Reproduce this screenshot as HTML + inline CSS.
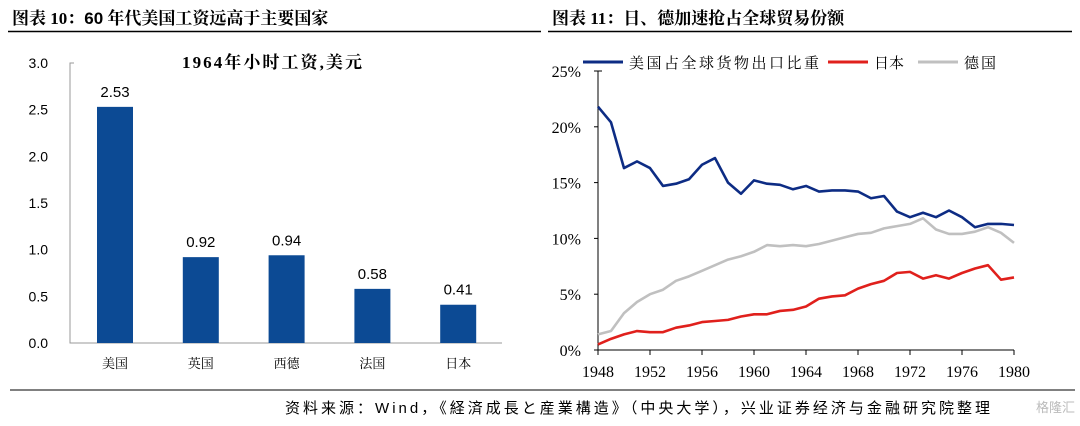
<!DOCTYPE html>
<html><head><meta charset="utf-8">
<style>
body{margin:0;background:#fff;width:1080px;height:421px;overflow:hidden;}
svg text{font-family:"Liberation Serif","Noto Serif CJK SC",serif;}
.sans{font-family:"Liberation Sans","Noto Sans CJK SC",sans-serif !important;}
</style></head>
<body>
<svg id="svg" width="1080" height="421" xmlns="http://www.w3.org/2000/svg">
<text x="12" y="24" font-size="17" font-weight="bold" fill="#000">图表 10：<tspan class="sans">60</tspan> 年代美国工资远高于主要国家</text>
<line x1="8" y1="31.5" x2="541" y2="31.5" stroke="#000" stroke-width="1.5"/>
<text x="552" y="24" font-size="17" font-weight="bold" fill="#000">图表 11：日、德加速抢占全球贸易份额</text>
<line x1="548" y1="31.5" x2="1072" y2="31.5" stroke="#000" stroke-width="1.5"/>
<text x="272" y="68" font-size="17" font-weight="bold" text-anchor="middle" textLength="180">1964年小时工资,美元</text>
<g id="left"></g>
<g id="right"></g>
<line x1="10" y1="390" x2="1075" y2="390" stroke="#000" stroke-width="1"/>
<text x="285" y="413" font-size="15" class="sans" fill="#000" textLength="705" lengthAdjust="spacing">资料来源：Wind，《経済成長と産業構造》（中央大学），兴业证券经济与金融研究院整理</text>
<text x="1075" y="412" font-size="13" text-anchor="end" class="sans" fill="#bbb">格隆汇</text>
</svg>
<script>
const NS="http://www.w3.org/2000/svg";
function mk(p,t,a){const e=document.createElementNS(NS,t);for(const k in a)e.setAttribute(k,a[k]);p.appendChild(e);return e;}
// Left bar chart data
const barCats=["美国","英国","西德","法国","日本"];
const barVals=[2.53,0.92,0.94,0.58,0.41];
const barTicks=[0,0.5,1.0,1.5,2.0,2.5,3.0];
// Right line chart data
const years=[];for(let y=1948;y<=1980;y++)years.push(y);
const usShare=[21.8,20.4,16.3,16.9,16.3,14.7,14.9,15.3,16.6,17.2,15.0,14.0,15.2,14.9,14.8,14.4,14.7,14.2,14.3,14.3,14.2,13.6,13.8,12.4,11.9,12.3,11.9,12.5,11.9,11.0,11.3,11.3,11.2];
const jpShare=[0.5,1.0,1.4,1.7,1.6,1.6,2.0,2.2,2.5,2.6,2.7,3.0,3.2,3.2,3.5,3.6,3.9,4.6,4.8,4.9,5.5,5.9,6.2,6.9,7.0,6.4,6.7,6.4,6.9,7.3,7.6,6.3,6.5];
const deShare=[1.4,1.7,3.3,4.3,5.0,5.4,6.2,6.6,7.1,7.6,8.1,8.4,8.8,9.4,9.3,9.4,9.3,9.5,9.8,10.1,10.4,10.5,10.9,11.1,11.3,11.8,10.8,10.4,10.4,10.6,11.0,10.5,9.6];
const yTicksR=[0,5,10,15,20,25];
const xTicksR=[1948,1952,1956,1960,1964,1968,1972,1976,1980];

// left
const L=document.getElementById('left');
const ly=v=>343-v/3.0*280;
const lx=i=>115+i*85.8;
let ax=mk(L,'polyline',{points:`74,${ly(3)} 70,${ly(3)} 70,343 502,343`,fill:'none',stroke:'#999','stroke-width':1});

barTicks.forEach(t=>{const e=mk(L,'text',{x:48,y:ly(t)+5,'font-size':14,'text-anchor':'end',class:'sans'});e.textContent=t.toFixed(1);
});
barVals.forEach((v,i)=>{const r=mk(L,'rect',{x:lx(i)-18,y:ly(v),width:36,height:343-ly(v),fill:'#0c4a94'});

const t=mk(L,'text',{x:lx(i),y:ly(v)-10,'font-size':15,'text-anchor':'middle',class:'sans'});t.textContent=v.toFixed(2);

const c=mk(L,'text',{x:lx(i),y:368,'font-size':13,'text-anchor':'middle'});c.textContent=barCats[i];
});

// right
const R=document.getElementById('right');
const rx=y=>598+(y-1948)*13;
const ry=v=>350-v*11.16;
let ax2=mk(R,'polyline',{points:`602,${ry(25)} 598,${ry(25)} 598,350 ${rx(1980)},350`,fill:'none',stroke:'#000','stroke-width':1});

yTicksR.forEach(t=>{const l=mk(R,'line',{x1:594,x2:598,y1:ry(t),y2:ry(t),stroke:'#000'});
const e=mk(R,'text',{x:581,y:ry(t)+6,'font-size':16,'text-anchor':'end'});e.textContent=t+'%';
});
xTicksR.forEach(t=>{const l=mk(R,'line',{x1:rx(t),x2:rx(t),y1:350,y2:355,stroke:'#000'});
const e=mk(R,'text',{x:rx(t),y:377,'font-size':16,'text-anchor':'middle'});e.textContent=t;
});
[[deShare,'#c0c0c0','germany-line'],[jpShare,'#e0201c','japan-line'],[usShare,'#0d2c84','us-line']].forEach(([d,c,n])=>{
const p=mk(R,'polyline',{points:d.map((v,i)=>rx(years[i])+','+ry(v)).join(' '),fill:'none',stroke:c,'stroke-width':2.6,'stroke-linejoin':'round'});
});
// legend
[[583,'#0d2c84','美国占全球货物出口比重','legend-us',190],[828,'#e0201c','日本','legend-japan',30],[918,'#c0c0c0','德国','legend-germany',32]].forEach(([x,c,t,n,w])=>{
const g=mk(R,'g',{});
mk(g,'line',{x1:x,x2:x+40,y1:62,y2:62,stroke:c,'stroke-width':3});
const e=mk(g,'text',{x:x+46,y:68,'font-size':15,textLength:w,lengthAdjust:'spacing'});e.textContent=t;});
</script>
</body></html>
